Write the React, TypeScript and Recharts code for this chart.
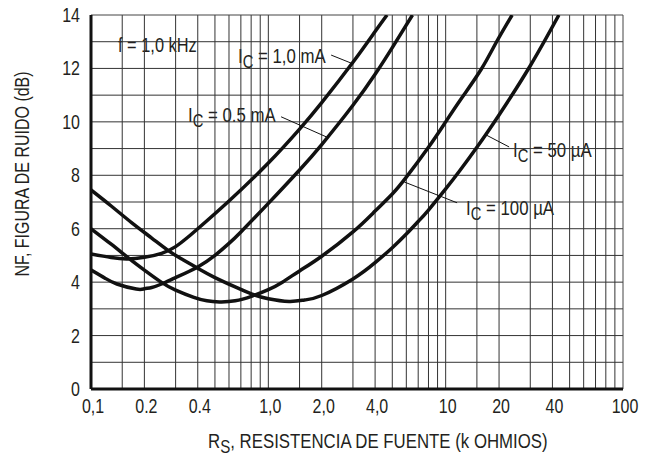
import React from 'react'
import { LineChart, Line, XAxis, YAxis, ReferenceLine } from 'recharts'

// eje X logarítmico (k ohmios)
const xTicks = [0.1, 0.2, 0.4, 1, 2, 4, 10, 20, 40, 100]
const xTickLabels = ['0,1', '0.2', '0.4', '1,0', '2,0', '4,0', '10', '20', '40', '100']
const yTicks = [0, 2, 4, 6, 8, 10, 12, 14]
const xGrid = [
  0.15, 0.2, 0.3, 0.4, 0.5, 0.6, 0.7, 0.8, 0.9, 1,
  1.5, 2, 3, 4, 5, 6, 7, 8, 9, 10,
  15, 20, 30, 40, 50, 60, 70, 80, 90,
]
const yGrid = [1, 2, 3, 4, 5, 6, 7, 8, 9, 10, 11, 12, 13]

// IC = 1,0 mA
const rs1mA = [0.1, 0.13, 0.16, 0.2, 0.25, 0.3, 0.35, 0.4, 0.6, 1.0, 1.5, 2.0, 3.0, 4.0, 4.67]
const nf1mA = [5.05, 4.92, 4.87, 4.93, 5.08, 5.33, 5.67, 6.0, 7.04, 8.46, 9.73, 10.72, 12.23, 13.38, 14.0]

// IC = 0.5 mA
const rs05mA = [0.1, 0.12, 0.14, 0.18, 0.2, 0.22, 0.25, 0.3, 0.4, 0.5, 0.6, 0.7, 1.0, 1.5, 2.0, 3.0, 4.0, 5.0, 6.5]
const nf05mA = [4.46, 4.15, 3.93, 3.74, 3.75, 3.8, 3.93, 4.17, 4.57, 5.0, 5.45, 5.88, 6.95, 8.2, 9.15, 10.62, 11.78, 12.78, 14.0]

// IC = 100 uA
const rs100uA = [0.1, 0.13, 0.165, 0.2, 0.25, 0.3, 0.38, 0.45, 0.53, 0.65, 0.81, 1.0, 1.2, 1.5, 2.0, 3.0, 4.0, 5.0, 6.0, 8.0, 10.0, 12.4, 15.9, 19.3, 23.7]
const nf100uA = [6.0, 5.42, 4.87, 4.45, 3.99, 3.7, 3.43, 3.3, 3.26, 3.3, 3.48, 3.72, 4.0, 4.42, 4.97, 5.88, 6.66, 7.3, 7.93, 9.05, 10.0, 10.92, 11.98, 12.98, 14.0]

// IC = 50 uA
const rs50uA = [0.1, 0.13, 0.17, 0.22, 0.277, 0.33, 0.404, 0.5, 0.65, 0.81, 1.0, 1.31, 1.6, 2.0, 3.0, 4.0, 5.0, 6.0, 7.0, 8.0, 10.0, 12.0, 15.0, 20.0, 30.0, 43.5]
const nf50uA = [7.45, 6.85, 6.22, 5.65, 5.15, 4.84, 4.5, 4.17, 3.82, 3.55, 3.38, 3.28, 3.33, 3.5, 4.12, 4.73, 5.29, 5.8, 6.27, 6.7, 7.49, 8.17, 9.05, 10.26, 12.1, 14.0]

// líneas guía de las etiquetas (en coordenadas de datos)
const leader1mA = [{ x: 2.26, y: 12.5 }, { x: 2.93, y: 12.2 }]
const leader05mA = [{ x: 1.18, y: 10.19 }, { x: 2.12, y: 9.44 }]
const leader50uA = [{ x: 16.9, y: 9.51 }, { x: 22.8, y: 9.06 }]
const leader100uA = [{ x: 5.84, y: 7.75 }, { x: 11.6, y: 6.97 }]

const toSeries = (rs: number[], nf: number[]) => rs.map((r, i) => ({ rs: r, nf: nf[i] }))

// Liberation Sans comprimida horizontalmente ~ Helvetica Narrow
const FONT = "'Liberation Sans', Arial, sans-serif"
const NARROW = 0.82
const INK = '#231f20'

function NText({ x, y, size = 20, anchor = 'start', rotate = 0, children }: any) {
  const rot = rotate ? ` rotate(${rotate})` : ''
  return (
    <text
      transform={`translate(${x},${y})${rot} scale(${NARROW},1)`}
      textAnchor={anchor}
      fontFamily={FONT}
      fontSize={size}
      fill={INK}
    >
      {children}
    </text>
  )
}

function ICText({ x, y, rest }: { x: number; y: number; rest: string }) {
  return (
    <NText x={x} y={y} size={20.5}>
      I
      <tspan dy={5} fontSize={18}>C</tspan>
      <tspan dy={-5}>{' ' + rest}</tspan>
    </NText>
  )
}

function XTick({ x, y, payload }: any) {
  const i = xTicks.indexOf(payload.value)
  const label = i >= 0 ? xTickLabels[i] : String(payload.value)
  return (
    <NText x={x + 2} y={y + 13} size={19.5} anchor="middle">
      {label}
    </NText>
  )
}

function YTick({ x, y, payload }: any) {
  return (
    <NText x={x} y={y + 7} size={19.5} anchor="end">
      {payload.value}
    </NText>
  )
}

export default function App() {
  return (
    <div style={{ position: 'absolute', left: 0, top: 0, background: '#fff' }}>
      <LineChart
        width={655}
        height={456}
        margin={{ top: 15, right: 32, bottom: 0, left: 0 }}
      >
        <XAxis
          type="number"
          dataKey="rs"
          scale="log"
          domain={[0.1, 100]}
          ticks={xTicks}
          allowDataOverflow
          height={67}
          tickSize={0}
          tickMargin={11}
          axisLine={{ stroke: '#111', strokeWidth: 3 }}
          tick={<XTick />}
          interval={0}
        />
        <YAxis
          type="number"
          domain={[0, 14]}
          ticks={yTicks}
          allowDataOverflow
          width={91}
          tickSize={0}
          tickMargin={11}
          axisLine={{ stroke: '#111', strokeWidth: 3 }}
          tick={<YTick />}
          interval={0}
        />

        {xGrid.map((v) => (
          <ReferenceLine key={'vx' + v} x={v} stroke="#333" strokeWidth={1} />
        ))}
        {yGrid.map((v) => (
          <ReferenceLine key={'hy' + v} y={v} stroke="#333" strokeWidth={1} />
        ))}
        <ReferenceLine y={14} stroke="#444" strokeWidth={1} />
        <ReferenceLine x={100} stroke="#444" strokeWidth={1} />

        <ReferenceLine segment={leader1mA} stroke="#111" strokeWidth={1} />
        <ReferenceLine segment={leader05mA} stroke="#111" strokeWidth={1} />
        <ReferenceLine segment={leader50uA} stroke="#111" strokeWidth={1} />
        <ReferenceLine segment={leader100uA} stroke="#111" strokeWidth={1} />

        <Line data={toSeries(rs1mA, nf1mA)} dataKey="nf" type="natural" stroke="#111" strokeWidth={3.5} dot={false} isAnimationActive={false} />
        <Line data={toSeries(rs05mA, nf05mA)} dataKey="nf" type="natural" stroke="#111" strokeWidth={3.5} dot={false} isAnimationActive={false} />
        <Line data={toSeries(rs100uA, nf100uA)} dataKey="nf" type="natural" stroke="#111" strokeWidth={3.5} dot={false} isAnimationActive={false} />
        <Line data={toSeries(rs50uA, nf50uA)} dataKey="nf" type="natural" stroke="#111" strokeWidth={3.5} dot={false} isAnimationActive={false} />

        <NText x={118} y={52} size={20}>f = 1,0 kHz</NText>
        <ICText x={238} y={63} rest="= 1,0 mA" />
        <ICText x={188} y={122} rest="= 0.5 mA" />
        <ICText x={513} y={157} rest="= 50 µA" />
        <ICText x={466} y={215} rest="= 100 µA" />

        <NText x={29} y={174} size={19.5} anchor="middle" rotate={-90}>
          NF, FIGURA DE RUIDO (dB)
        </NText>
        <NText x={208} y={448} size={20.5}>
          R
          <tspan dy={5} fontSize={18.5}>S</tspan>
          <tspan dy={-5}>, RESISTENCIA DE FUENTE (k OHMIOS)</tspan>
        </NText>
      </LineChart>
    </div>
  )
}
